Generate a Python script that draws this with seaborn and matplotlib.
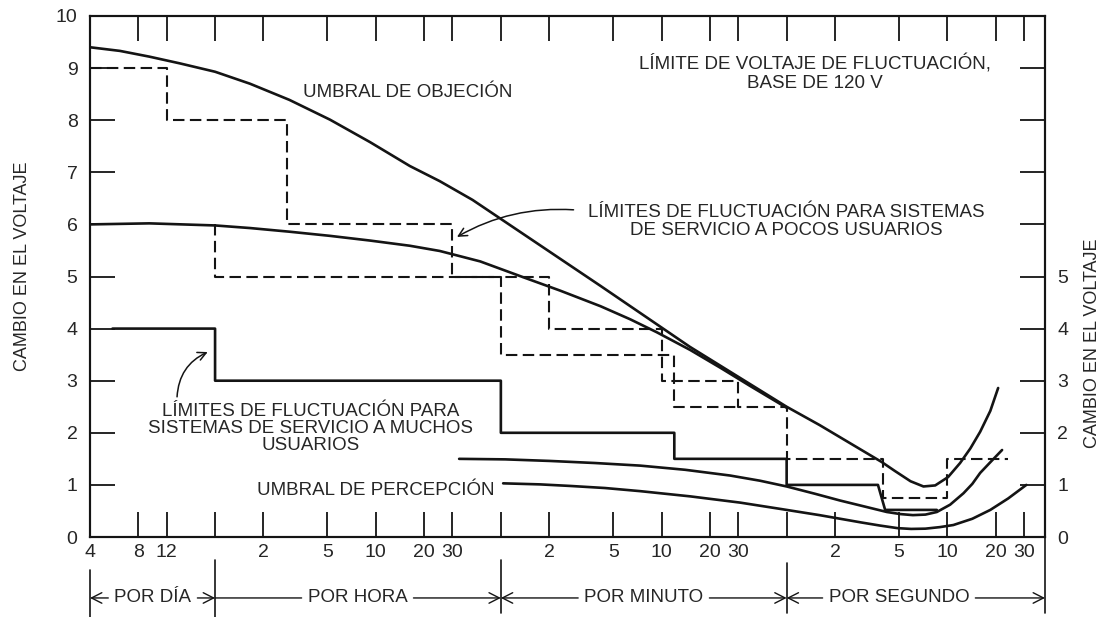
import matplotlib
matplotlib.use("Agg")
import matplotlib.pyplot as plt
import seaborn as sns

# x = fluctuations per hour (log scale), y = voltage change
D = 1 / 24      # one per day
M = 60          # one per minute
S = 3600        # one per second

# Umbral de objeción
obj_x = [4*D, 0.256, 0.39, 0.605, 1.0, 1.65, 2.9, 5.19, 9.2, 16.3, 25, 40, 250, 900,
         1*S, 1.6*S, 3.9*S, 4.7*S, 5.9*S, 7.1*S, 8.4*S, 10.1*S, 12*S, 13.9*S, 16*S,
         18.5*S, 20.7*S]
obj_y = [9.40, 9.33, 9.22, 9.09, 8.93, 8.70, 8.39, 8.01, 7.58, 7.12, 6.83, 6.47, 4.82, 3.65,
         2.50, 2.15, 1.44, 1.27, 1.07, 0.97, 0.99, 1.15, 1.42, 1.70, 2.02,
         2.42, 2.86]

# Límites para pocos usuarios (curva continua)
few_x = [4*D, 0.39, 1.0, 1.65, 2.9, 5.19, 9.2, 16.3, 25, 44.6, 82, 140, 250, 382, 560,
         904, 1390, 2130, 1*S]
few_y = [6.00, 6.02, 5.98, 5.93, 5.86, 5.78, 5.69, 5.59, 5.49, 5.29, 4.99, 4.73, 4.43, 4.18,
         3.93, 3.59, 3.25, 2.90, 2.48]

# escalones discontinuos
stepa_x = [4*D, 12*D, 12*D, 2.8, 2.8, 30, 30, 2*M, 2*M, 10*M, 10*M, 30*M, 30*M,
           1*S, 1*S, 4*S, 4*S, 10*S, 10*S, 24*S]
stepa_y = [9, 9, 8, 8, 6, 6, 5, 5, 4, 4, 3, 3, 2.5, 2.5, 1.5, 1.5, 0.75, 0.75, 1.5, 1.5]
stepb_x = [1.0, 1.0, 1*M, 1*M, 12*M, 12*M, 30*M]
stepb_y = [6, 5, 5, 3.5, 3.5, 2.5, 2.5]

# Límites para muchos usuarios (escalones continuos)
many_x = [0.23, 1.0, 1.0, 1*M, 1*M, 12*M, 12*M, 1*S, 1*S, 3.7*S, 4.1*S, 8.6*S]
many_y = [4, 4, 3, 3, 2, 2, 1.5, 1.5, 1.0, 1.0, 0.52, 0.52]

# curva intermedia
mid_x = [33, 64, 121, 231, 442, 841, 1600, 2460, 1*S, 1.5*S, 2.15*S, 3.1*S, 4.2*S,
         5.1*S, 6.1*S, 7.3*S, 8.6*S, 10.4*S, 12.6*S, 14.3*S, 16*S, 18.7*S, 21.9*S]
mid_y = [1.50, 1.49, 1.46, 1.42, 1.37, 1.29, 1.18, 1.08, 0.97, 0.83, 0.70, 0.58, 0.48,
         0.44, 0.42, 0.43, 0.48, 0.62, 0.84, 1.02, 1.23, 1.45, 1.67]

# Umbral de percepción
perc_x = [62, 105, 162, 267, 442, 904, 1850, 0.91*S, 1.6*S, 2.9*S, 3.8*S, 4.9*S, 5.95*S,
          7.3*S, 9*S, 10.9*S, 14.3*S, 18.5*S, 23.9*S, 31*S]
perc_y = [1.03, 1.01, 0.98, 0.94, 0.88, 0.78, 0.66, 0.54, 0.42, 0.28, 0.22, 0.17, 0.155,
          0.16, 0.19, 0.23, 0.35, 0.52, 0.74, 1.00]

xticks = [4*D, 8*D, 12*D, 1, 2, 5, 10, 20, 30, 1*M, 2*M, 5*M, 10*M, 20*M, 30*M,
          1*S, 2*S, 5*S, 10*S, 20*S, 30*S]
xlabels = ["4", "8", "12", "", "2", "5", "10", "20", "30", "", "2", "5", "10", "20", "30",
           "", "2", "5", "10", "20", "30"]
xmax = 40.5 * S

sections = ["POR DÍA", "POR HORA", "POR MINUTO", "POR SEGUNDO"]
section_bounds = [4*D, 1, 1*M, 1*S, xmax]
section_mid = [0.41, 7.7, 465, 18000]

sns.set_style("ticks")
plt.rcParams["font.family"] = ["Liberation Sans", "DejaVu Sans"]
ink = "#141414"
txt = "#262626"

fig = plt.figure(figsize=(11.01, 6.17), dpi=100)
ax = fig.add_axes([90/1101, 80/617, 955/1101, 521/617])
ax.set_xscale("log")

solid = dict(color=ink, lw=1.9, estimator=None, sort=False, ax=ax)
dashed = dict(color=ink, lw=1.5, estimator=None, sort=False, ax=ax, linestyle=(0, (5.5, 2.6)))
sns.lineplot(x=obj_x, y=obj_y, **solid)
sns.lineplot(x=few_x, y=few_y, **solid)
sns.lineplot(x=many_x, y=many_y, **solid)
sns.lineplot(x=mid_x, y=mid_y, **solid)
sns.lineplot(x=perc_x, y=perc_y, **solid)
sns.lineplot(x=stepa_x, y=stepa_y, **dashed)
sns.lineplot(x=stepb_x, y=stepb_y, **dashed)

ax.set_xlim(4*D, xmax)
ax.set_ylim(0, 10)
ax.set_xticks(xticks)
ax.set_xticklabels(xlabels)
ax.minorticks_off()
ax.set_yticks(range(11))
ax.tick_params(direction="in", length=18, width=1.3, color=ink, labelcolor=txt,
               labelsize=14, top=True)
ax.tick_params(axis="y", pad=9)
ax.tick_params(axis="x", pad=5)
for sp in ax.spines.values():
    sp.set_linewidth(1.5)
    sp.set_color(ink)
ax.set_ylabel("CAMBIO EN EL VOLTAJE", fontsize=13, color=txt, va="center")
ax.yaxis.set_label_coords(-0.071, 0.52)

ax2 = ax.twinx()
ax2.set_ylim(0, 10)
ax2.set_yticks(range(11))
ax2.set_yticklabels([str(i) if i <= 5 else "" for i in range(11)])
ax2.tick_params(direction="in", length=18, width=1.3, color=ink, labelcolor=txt,
                labelsize=14, pad=9)
ax2.set_ylabel("CAMBIO EN EL VOLTAJE", fontsize=13, color=txt, va="center")
ax2.yaxis.set_label_coords(1.05, 0.372)
for sp in ax2.spines.values():
    sp.set_linewidth(1.5)
    sp.set_color(ink)

fs = 13.5
ax.text(15.8, 8.54, "UMBRAL DE OBJECIÓN", fontsize=fs, color=txt, ha="center", va="center")
ax.text(5410, 8.9, "LÍMITE DE VOLTAJE DE FLUCTUACIÓN,\nBASE DE 120 V", fontsize=fs,
        color=txt, ha="center", va="center", linespacing=1.15)
ax.text(3570, 6.05, "LÍMITES DE FLUCTUACIÓN PARA SISTEMAS\nDE SERVICIO A POCOS USUARIOS",
        fontsize=fs, color=txt, ha="center", va="center", linespacing=1.1)
ax.text(3.95, 2.09, "LÍMITES DE FLUCTUACIÓN PARA\nSISTEMAS DE SERVICIO A MUCHOS\nUSUARIOS",
        fontsize=fs, color=txt, ha="center", va="center", linespacing=1.0)
ax.text(10, 0.9, "UMBRAL DE PERCEPCIÓN", fontsize=fs, color=txt, ha="center", va="center")

arrow = dict(arrowstyle="->,head_length=0.6,head_width=0.3", color=ink, lw=1.1,
             shrinkA=0, shrinkB=0)
ax.annotate("", xy=(32, 5.76), xytext=(170, 6.28),
            arrowprops=dict(arrow, connectionstyle="arc3,rad=0.15"))
ax.annotate("", xy=(0.9, 3.55), xytext=(0.58, 2.69),
            arrowprops=dict(arrow, connectionstyle="arc3,rad=-0.3"))

# bandas inferiores: por día / hora / minuto / segundo
tr = ax.get_xaxis_transform()
tops = [-0.063, -0.044, -0.044, -0.05, 0.0]
bots = [-0.16, -0.16, -0.145, -0.145, -0.145]
for xb, t, b in zip(section_bounds, tops, bots):
    ax.plot([xb, xb], [t, b], color=ink, lw=1.2, transform=tr, clip_on=False)

yb = -0.117
head = "->,head_length=0.55,head_width=0.28"
for i, name in enumerate(sections):
    x0, x1 = section_bounds[i], section_bounds[i + 1]
    xm = section_mid[i]
    ax.annotate(name, xy=(x1, yb), xytext=(xm, yb), xycoords=tr, textcoords=tr,
                ha="center", va="center", fontsize=fs, color=txt,
                arrowprops=dict(arrowstyle=head, color=ink, lw=1.0, shrinkB=0))
    ax.annotate(name, xy=(x0, yb), xytext=(xm, yb), xycoords=tr, textcoords=tr,
                ha="center", va="center", fontsize=fs, color="none",
                arrowprops=dict(arrowstyle="-" if i == 1 else head, color=ink, lw=1.0, shrinkB=0))

fig.savefig("out.png", dpi=100, facecolor="white")
